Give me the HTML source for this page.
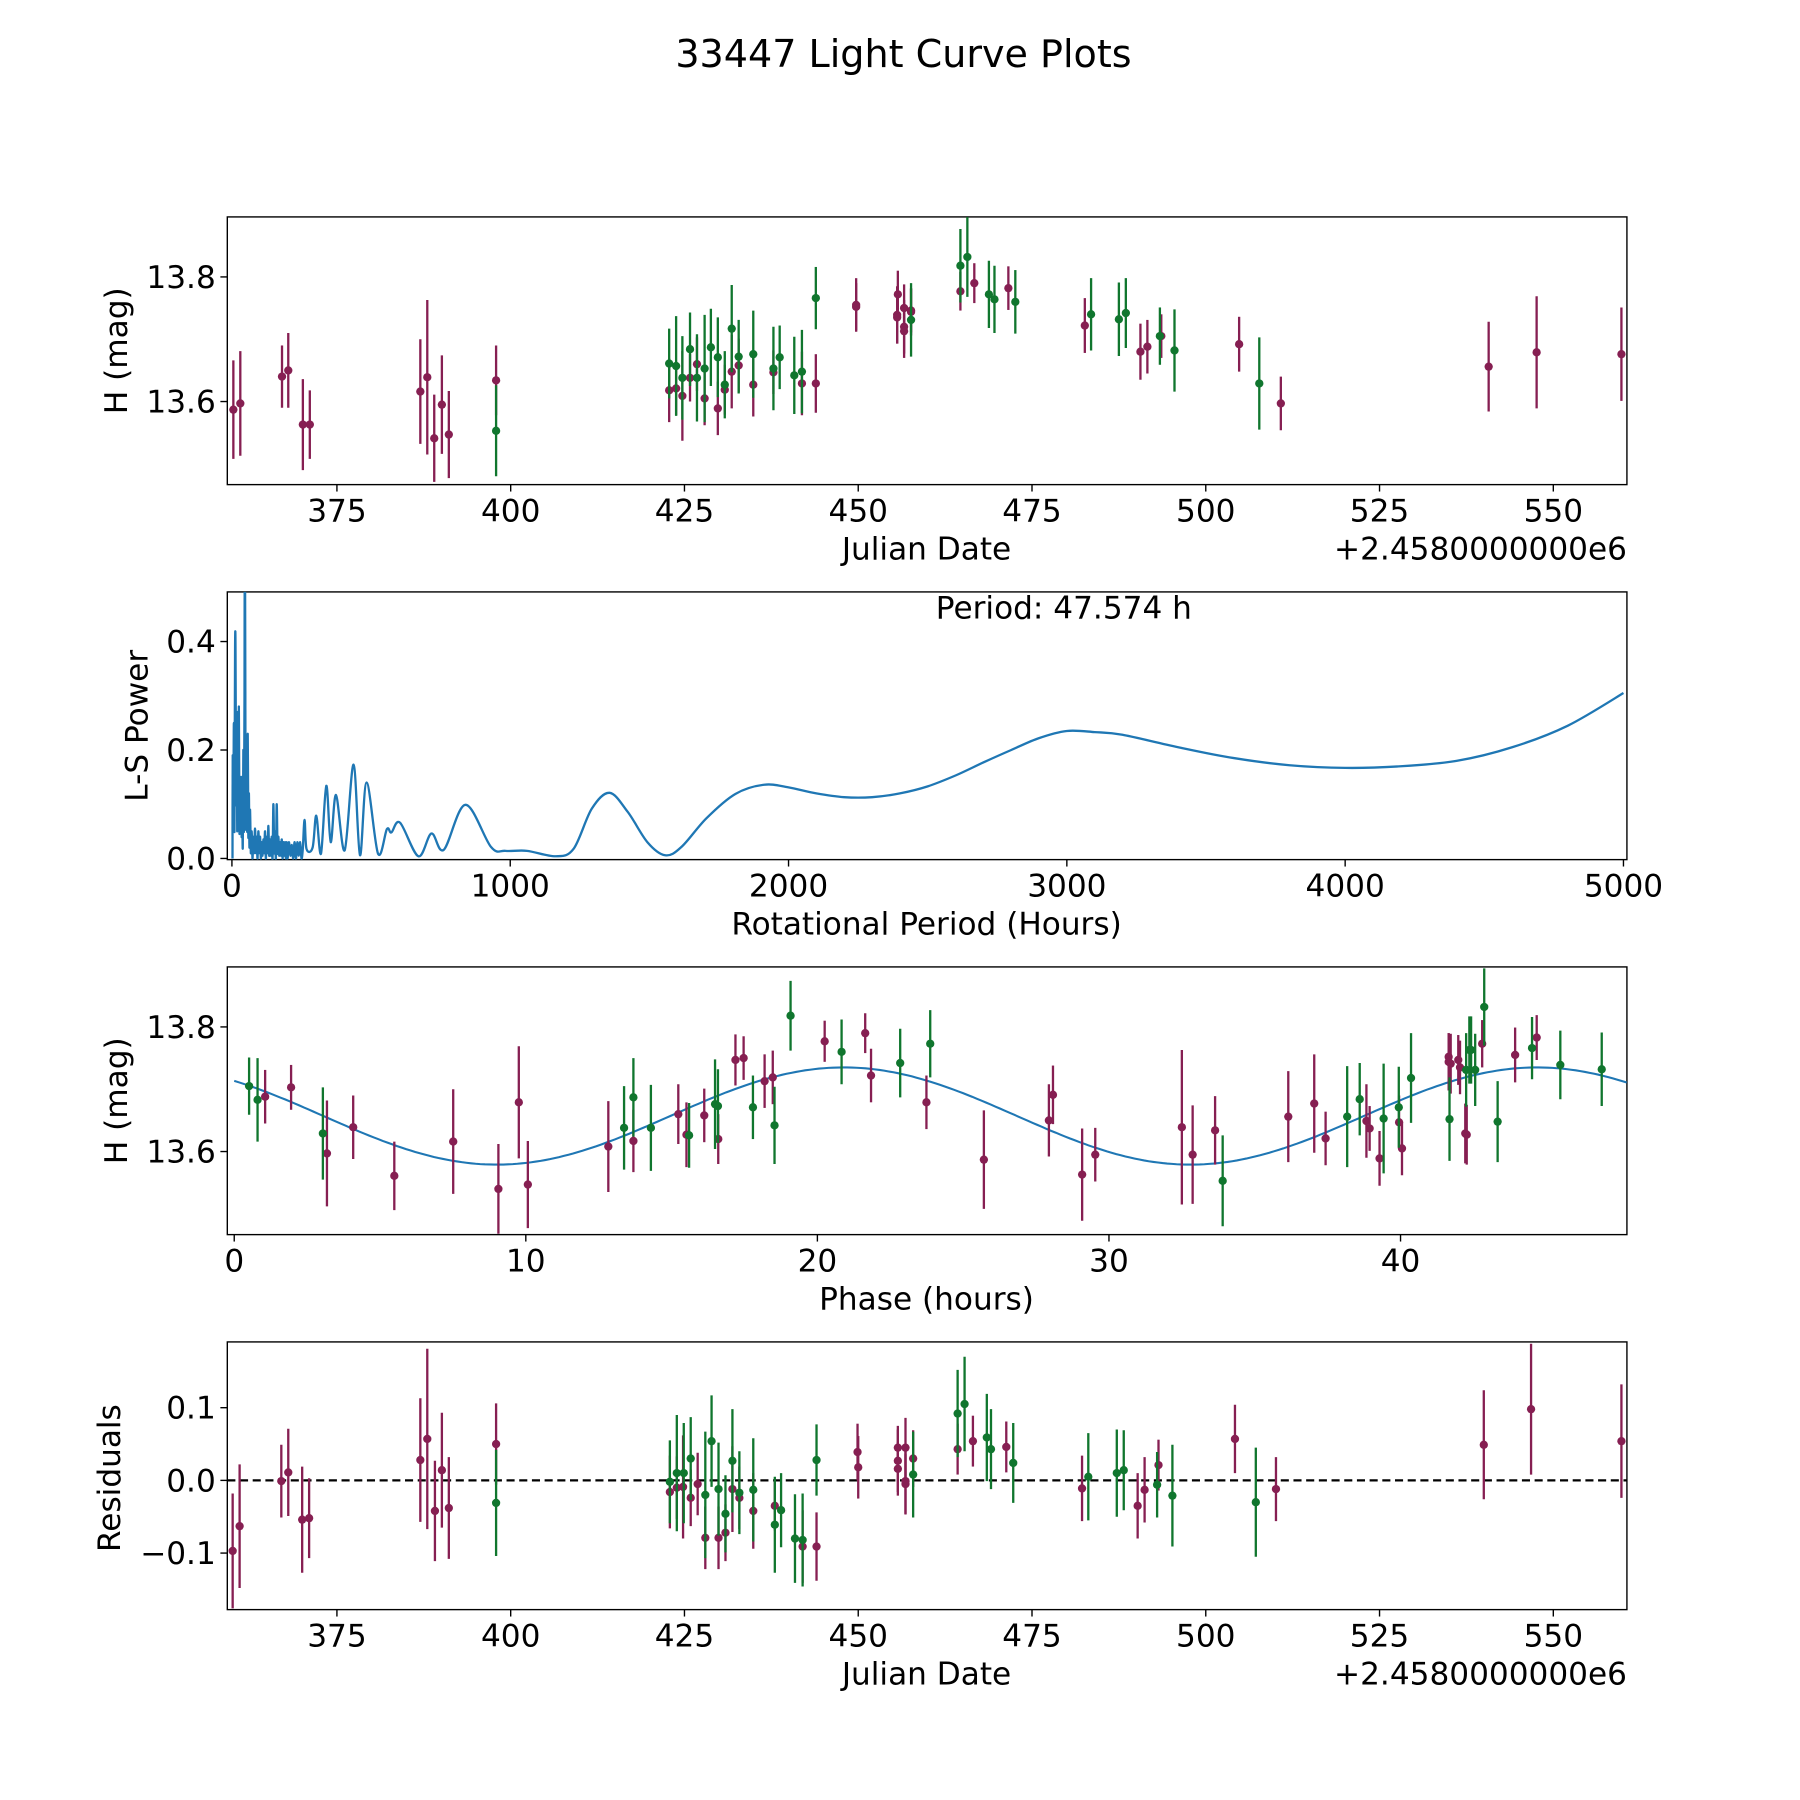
<!DOCTYPE html>
<html><head><meta charset="utf-8"><title>33447 Light Curve Plots</title>
<style>html,body{margin:0;padding:0;background:#fff}svg{display:block}text{font-family:"DejaVu Sans","Liberation Sans",sans-serif;fill:#000}</style>
</head><body>
<svg id="fig" width="1800" height="1800" viewBox="0 0 1560 1560" xmlns="http://www.w3.org/2000/svg">
<defs>
<clipPath id="c1"><rect x="197" y="188" width="1213" height="232"/></clipPath>
<clipPath id="c2"><rect x="197" y="513" width="1213" height="232"/></clipPath>
<clipPath id="c3"><rect x="197" y="838" width="1213" height="232"/></clipPath>
<clipPath id="c4"><rect x="197" y="1163" width="1213" height="232"/></clipPath>
</defs>
<rect width="1560" height="1560" fill="#fff"/>
<text x="783" y="58" font-size="33" text-anchor="middle">33447 Light Curve Plots</text>
<g id="root"></g>
</svg>
<script>
// ---------- data ----------
const lcMaroon = [[360.1,13.587,.079],[361.1,13.597,.084],[367.1,13.640,.05],[368.0,13.650,.06],[370.1,13.563,.073],[371.1,13.563,.055],[387.0,13.616,.084],[388.0,13.639,.124],[389.0,13.541,.07],[390.1,13.595,.079],[391.1,13.547,.07],[397.9,13.634,.056],
[422.8,13.618,.051],[423.8,13.621,.043],[424.7,13.609,.072],[425.8,13.638,.038],[426.8,13.660,.043],[427.9,13.605,.043],[429.8,13.589,.043],[430.8,13.619,.04],[431.8,13.648,.059],[432.8,13.658,.043],[434.9,13.627,.051],[437.8,13.647,.035],[441.9,13.629,.051],[443.9,13.629,.047],
[449.7,13.752,.038],[449.7,13.755,.043],[455.7,13.772,.038],[455.6,13.739,.046],[455.6,13.735,.042],[456.6,13.750,.038],[456.6,13.720,.043],[456.6,13.713,.043],[457.6,13.746,.035],[457.6,13.744,.038],
[464.7,13.777,.031],[466.7,13.790,.032],[471.6,13.782,.035],[482.6,13.722,.044],[490.6,13.680,.045],[491.6,13.688,.043],[493.6,13.705,.035],[504.8,13.692,.044],[510.8,13.597,.043],[540.7,13.656,.072],[547.6,13.679,.09],[559.8,13.676,.075]];
const lcGreen = [[397.9,13.553,.073],[422.8,13.661,.056],[423.8,13.657,.08],[424.7,13.638,.067],[425.8,13.684,.059],[426.8,13.638,.07],[427.9,13.653,.086],[428.8,13.687,.062],[429.8,13.671,.064],[430.8,13.627,.054],[431.8,13.717,.07],[432.8,13.672,.059],[434.9,13.676,.07],[437.8,13.653,.067],[438.7,13.671,.051],[440.8,13.642,.062],[441.9,13.648,.067],[443.9,13.766,.05],[457.6,13.731,.059],[464.7,13.818,.059],[465.7,13.832,.064],[468.8,13.772,.054],[469.6,13.764,.054],[472.6,13.760,.051],[483.5,13.740,.058],[487.5,13.732,.059],[488.5,13.742,.056],[493.4,13.705,.046],[495.5,13.682,.066],[507.7,13.629,.074]];

const lsPeriods = [2,3,5,7,9,11,13,15,17,19,21,23,25,27,29,31,33,35,37,39,41,43,45,46,47,49,51,53,55,57,59,61,63,65,68,71,74,77,80,83,86,89,92,95,98,101,104,107,110,113,116,119,122,125,128,131,134,137,140,143,146,149,152,155,158,161,164,167,170,173,176,179,182,185,188,191,194,197,200,205,210,215,220,225,230,235,240,245,250,255,261,268,290,303,320,339,355,374,405,437,460,484,525,557,573,604,670,717,761,839,931,983,1060,1164,1228,1293,1357,1422,1493,1557,1615,1705,1809,1912,2000,2100,2200,2300,2400,2500,2600,2700,2800,2900,3000,3100,3200,3400,3600,3800,4000,4200,4400,4600,4800,5000];
const lsPower = [0,0.19,0.05,0.25,0.05,0.37,0.39,0.1,0.25,0.05,0.27,0.1,0.28,0.05,0.12,0.08,0.15,0.04,0.1,0.02,0.2,0.05,0.3,0.6,0.6,0.1,0.08,0.15,0.05,0.23,0.04,0.12,0.02,0.09,0.01,0.05,0,0.04,0.01,0.055,0.01,0.04,0,0.05,0.01,0.04,0,0.03,0.005,0.035,0.01,0.05,0,0.04,0.01,0.06,0.005,0.035,0.005,0.04,0,0.1,0.01,0.05,0,0.1,0.01,0.04,0.005,0.03,0.005,0.035,0,0.03,0.005,0.03,0,0.03,0,0.03,0.005,0.025,0,0.03,0,0.03,0.005,0.03,0,0.02,0.071,0.018,0.02,0.079,0.009,0.134,0.03,0.117,0.015,0.173,0.006,0.14,0.009,0.054,0.048,0.066,0.004,0.046,0.016,0.099,0.021,0.014,0.014,0.004,0.018,0.092,0.121,0.086,0.03,0.006,0.021,0.074,0.119,0.136,0.131,0.12,0.113,0.113,0.12,0.133,0.153,0.177,0.2,0.222,0.235,0.233,0.228,0.205,0.185,0.172,0.167,0.17,0.18,0.205,0.245,0.305];
const periodLabel = "Period: 47.574 h";

const phMaroon = [[1.06,13.688,.043],[1.95,13.703,.036],[3.18,13.597,.085],[4.08,13.639,.051],[5.49,13.561,.055],[7.51,13.616,.084],[9.06,13.540,.072],[9.76,13.679,.09],[10.07,13.547,.07],[12.83,13.608,.073],[13.69,13.617,.05],[15.23,13.660,.048],[15.51,13.627,.052],[16.12,13.658,.043],[16.60,13.620,.04],[17.19,13.747,.041],[17.47,13.750,.035],[18.19,13.713,.043],[18.47,13.719,.043],[20.25,13.777,.033],[21.64,13.790,.032],[21.84,13.722,.043],[23.74,13.679,.043],
[25.71,13.587,.079],[27.94,13.650,.058],[28.08,13.691,.047],[29.08,13.563,.074],[29.53,13.595,.043],[32.50,13.639,.124],[32.87,13.595,.079],[33.64,13.634,.055],[36.15,13.656,.073],[37.04,13.677,.079],[37.43,13.621,.043],[38.83,13.649,.059],[38.94,13.637,.036],[39.28,13.589,.044],[39.95,13.647,.043],[40.05,13.605,.043],[41.65,13.752,.038],[41.65,13.744,.046],[41.72,13.741,.048],[41.98,13.747,.04],[42.04,13.735,.043],[42.22,13.629,.048],[42.27,13.627,.048],[42.80,13.773,.038],[43.93,13.755,.044],[44.67,13.783,.036]];
const phGreen = [[0.51,13.705,.046],[0.80,13.683,.067],[3.04,13.629,.074],[13.37,13.638,.067],[13.69,13.687,.063],[14.29,13.638,.069],[15.60,13.626,.052],[16.49,13.676,.072],[16.59,13.673,.059],[17.79,13.671,.051],[18.53,13.642,.062],[19.08,13.818,.056],[20.83,13.760,.052],[22.84,13.742,.055],[23.87,13.773,.054],[33.90,13.553,.073],[38.17,13.656,.081],[38.60,13.684,.058],[39.42,13.653,.088],[39.94,13.671,.065],[40.36,13.718,.072],[41.68,13.652,.067],[42.25,13.731,.059],[42.36,13.763,.054],[42.42,13.763,.054],[42.56,13.731,.058],[42.87,13.832,.062],[43.33,13.648,.065],[44.51,13.766,.05],[45.48,13.739,.055],[46.90,13.732,.059]];
const fitMean = 13.657, fitAmp = 0.078, fitPeak = 20.9, fitHalfPeriod = 23.787, fitMaxPhase = 47.76;

const resMaroon = [[360.0,-0.097,.079],[361.0,-0.063,.085],[367.0,-0.001,.05],[368.0,0.011,.06],[370.0,-0.054,.073],[371.0,-0.052,.055],[387.0,0.028,.085],[388.0,0.057,.124],[389.1,-0.042,.069],[390.1,0.014,.079],[391.1,-0.038,.07],[397.9,0.05,.056],
[422.9,-0.016,.05],[423.9,-0.010,.043],[424.8,-0.009,.071],[425.9,-0.024,.039],[426.9,-0.005,.043],[428.0,-0.079,.043],[429.9,-0.079,.043],[430.9,-0.072,.039],[431.9,-0.012,.059],[432.9,-0.024,.043],[434.9,-0.042,.052],[438.0,-0.035,.034],[442.0,-0.091,.05],[444.0,-0.091,.047],
[449.9,0.039,.039],[450.0,0.018,.043],[455.7,0.045,.03],[455.7,0.027,.043],[455.7,0.016,.037],[456.8,0.045,.041],[456.8,-0.001,.046],[456.8,-0.005,.041],[457.9,0.030,.039],
[464.3,0.043,.035],[466.5,0.054,.035],[471.3,0.046,.035],[482.2,-0.011,.045],[490.2,-0.035,.045],[491.2,-0.013,.045],[493.2,0.021,.035],[504.2,0.057,.047],[510.1,-0.012,.044],[540.0,0.049,.075],[546.8,0.098,.09],[559.8,0.054,.078]];
const resGreen = [[397.9,-0.031,.073],[422.9,-0.002,.057],[423.9,0.010,.08],[424.9,0.010,.069],[425.9,0.030,.057],[428.0,-0.020,.087],[428.9,0.054,.063],[429.9,-0.012,.064],[430.9,-0.046,.053],[431.9,0.027,.071],[432.9,-0.017,.057],[434.9,-0.013,.071],[438.0,-0.061,.066],[438.9,-0.041,.051],[440.9,-0.080,.061],[442.0,-0.082,.064],[444.0,0.028,.049],[457.9,0.008,.059],
[464.3,0.092,.06],[465.3,0.105,.065],[468.5,0.059,.06],[469.1,0.043,.055],[472.3,0.024,.055],[483.1,0.005,.06],[487.2,0.01,.06],[488.2,0.014,.055],[493.0,-0.006,.045],[495.2,-0.021,.07],[507.2,-0.030,.075]];

const jdTicks = [375,400,425,450,475,500,525,550];
const magTicks = [13.6,13.8];
const perTicks = [0,1000,2000,3000,4000,5000];
const powTicks = [0.0,0.2,0.4];
const phTicks = [0,10,20,30,40];
const resTicks = [-0.1,0.0,0.1];

// ---------- axis functions ----------
const L = 197, R = 1410;
const xJD = d => 292 + (d - 375) * 6.024;
const yMag1 = m => 240 - (m - 13.8) * 540;
const xPer = p => 201 + p * 0.2412;
const yPow = v => 744 - v * 470;
const xPh = h => 203 + h * 25.27;
const yMag3 = m => 890 - (m - 13.8) * 540;
const yRes = r => 1283 - r * 630;

const NS = "http://www.w3.org/2000/svg";
const root = document.getElementById('root');
const MAROON = "#861f52", GREEN = "#10762e";
const TICK_FS = 27, LABEL_FS = 27;
function mk(tag, attrs, parent) {
  const e = document.createElementNS(NS, tag);
  for (const k in attrs) e.setAttribute(k, attrs[k]);
  (parent || root).appendChild(e);
  return e;
}
function frame(name, top) {
  const g = mk('g', {});
  
  
  const r = mk('rect', {x: L, y: top, width: R - L, height: 232, fill: 'none', stroke: '#000', 'stroke-width': 1.2}, g);
  
  
  return g;
}
function xTicks(g, ticks, fx, bottom, fmt) {
  ticks.forEach(t => {
    const x = fx(t);
    const l = mk('line', {x1: x, x2: x, y1: bottom, y2: bottom + 6, stroke: '#000', 'stroke-width': 1.2}, g);
    
    
    const tx = mk('text', {x: x, y: bottom + 32, 'font-size': TICK_FS, 'text-anchor': 'middle'}, g);
    tx.textContent = fmt(t);
    
    
  });
}
function yTicks(g, ticks, fy, fmt) {
  ticks.forEach(t => {
    const y = fy(t);
    const l = mk('line', {x1: L - 6, x2: L, y1: y, y2: y, stroke: '#000', 'stroke-width': 1.2}, g);
    
    
    const tx = mk('text', {x: L - 10, y: y + 9.5, 'font-size': TICK_FS, 'text-anchor': 'end'}, g);
    tx.textContent = fmt(t);
    
    
  });
}
function label(g, txt, x, y, rot, name, anchor) {
  const t = mk('text', {x: x, y: y, 'font-size': LABEL_FS, 'text-anchor': anchor || 'middle'}, g);
  if (rot) t.setAttribute('transform', `rotate(-90 ${x} ${y})`);
  t.textContent = txt;
  
  
}
function errPoints(g, rows, fx, fy, color, clip, name) {
  const s = mk('g', {'clip-path': `url(#${clip})`}, g);
  
  
  rows.forEach(r => {
    const x = fx(r[0]);
    const bar = mk('line', {x1: x, x2: x, y1: fy(r[1] + r[2]), y2: fy(r[1] - r[2]), stroke: color, 'stroke-width': 2}, s);
    
    
    const c = mk('circle', {cx: x, cy: fy(r[1]), r: 3.6, fill: color}, s);
    
    
  });
}
const fmt1 = v => v.toFixed(1);
const fmtInt = v => String(v);

// Panel 1
const g1 = frame('light-curve-panel', 188);
errPoints(g1, lcMaroon, xJD, yMag1, MAROON, 'c1', 'maroon-series');
errPoints(g1, lcGreen, xJD, yMag1, GREEN, 'c1', 'green-series');
xTicks(g1, jdTicks, xJD, 420, fmtInt);
yTicks(g1, magTicks, yMag1, fmt1);
label(g1, 'Julian Date', 803, 485, false, 'x-axis-title');
label(g1, '+2.4580000000e6', 1410, 485, false, 'x-axis-offset', 'end');
label(g1, 'H (mag)', 110, 304, true, 'y-axis-title');

// Panel 2 (Catmull-Rom smoothing through sample points)
const g2 = frame('periodogram-panel', 513);
const P = lsPeriods.map((p, i) => [xPer(p), yPow(lsPower[i])]);
let d = `M${P[0][0].toFixed(1)},${P[0][1].toFixed(1)}`;
for (let i = 0; i < P.length - 1; i++) {
  const p0 = P[Math.max(0, i - 1)], p1 = P[i], p2 = P[i + 1], p3 = P[Math.min(P.length - 1, i + 2)];
  const c1x = p1[0] + (p2[0] - p0[0]) / 6, c1y = p1[1] + (p2[1] - p0[1]) / 6;
  const c2x = p2[0] - (p3[0] - p1[0]) / 6, c2y = p2[1] - (p3[1] - p1[1]) / 6;
  d += ` C${c1x.toFixed(1)},${c1y.toFixed(1)} ${c2x.toFixed(1)},${c2y.toFixed(1)} ${p2[0].toFixed(1)},${p2[1].toFixed(1)}`;
}
const pl = mk('path', {d: d, fill: 'none', stroke: '#1f77b4', 'stroke-width': 2, 'clip-path': 'url(#c2)', 'stroke-linejoin': 'round'}, g2);


xTicks(g2, perTicks, xPer, 745, fmtInt);
yTicks(g2, powTicks, yPow, fmt1);
label(g2, 'Rotational Period (Hours)', 803, 810, false, 'x-axis-title');
label(g2, 'L-S Power', 128, 629, true, 'y-axis-title');
label(g2, periodLabel, 922, 536, false, 'period-annotation');

// Panel 3
const g3 = frame('phase-panel', 838);
const fitPts = [];
for (let i = 0; i <= 300; i++) {
  const h = fitMaxPhase * i / 300;
  fitPts.push(xPh(h).toFixed(1) + ',' + yMag3(fitMean + fitAmp * Math.cos(2 * Math.PI * (h - fitPeak) / fitHalfPeriod)).toFixed(1));
}
const fl = mk('polyline', {points: fitPts.join(' '), fill: 'none', stroke: '#1f77b4', 'stroke-width': 1.8, 'clip-path': 'url(#c3)'}, g3);


errPoints(g3, phMaroon, xPh, yMag3, MAROON, 'c3', 'maroon-phase-series');
errPoints(g3, phGreen, xPh, yMag3, GREEN, 'c3', 'green-phase-series');
xTicks(g3, phTicks, xPh, 1070, fmtInt);
yTicks(g3, magTicks, yMag3, fmt1);
label(g3, 'Phase (hours)', 803, 1135, false, 'x-axis-title');
label(g3, 'H (mag)', 110, 954, true, 'y-axis-title');

// Panel 4
const g4 = frame('residuals-panel', 1163);
const zl = mk('line', {x1: L, x2: R, y1: yRes(0), y2: yRes(0), stroke: '#000', 'stroke-width': 2, 'stroke-dasharray': '7,4'}, g4);


errPoints(g4, resMaroon, xJD, yRes, MAROON, 'c4', 'maroon-residuals');
errPoints(g4, resGreen, xJD, yRes, GREEN, 'c4', 'green-residuals');
xTicks(g4, jdTicks, xJD, 1395, fmtInt);
yTicks(g4, resTicks, yRes, v => (v < 0 ? '\u2212' : '') + Math.abs(v).toFixed(1));
label(g4, 'Julian Date', 803, 1460, false, 'x-axis-title');
label(g4, '+2.4580000000e6', 1410, 1460, false, 'x-axis-offset', 'end');
label(g4, 'Residuals', 104, 1281, true, 'y-axis-title');
</script>
</body></html>
